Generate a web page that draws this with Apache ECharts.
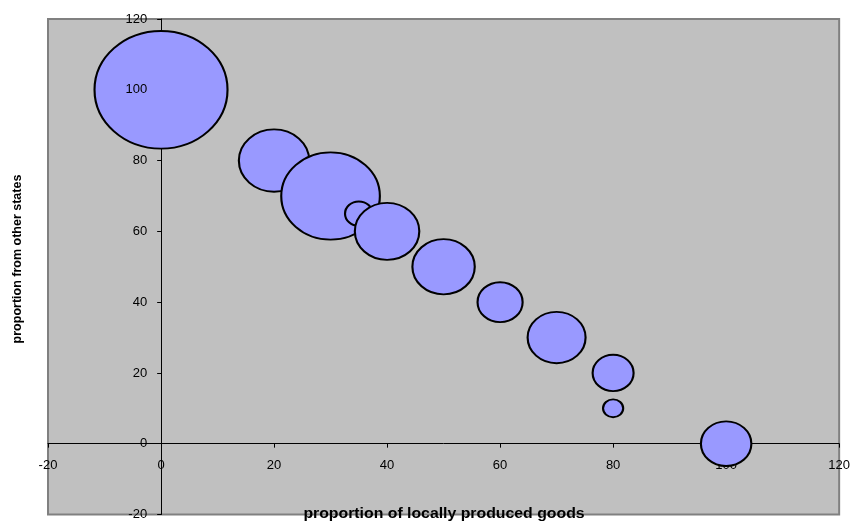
<!DOCTYPE html>
<html>
<head>
<meta charset="utf-8">
<script src="https://cdn.jsdelivr.net/npm/echarts@6/dist/echarts.min.js"></script>
<style>
  html, body { margin: 0; padding: 0; background: #ffffff; }
  #chart { width: 853px; height: 521px; }
</style>
</head>
<body>
<div id="chart"></div>
<script>
// Bubble data: x = share of locally produced goods, y = share from other states, size = bubble weight
const localShare       = [0, 20, 30, 35, 40, 50, 60, 70, 80, 80, 100];
const otherStatesShare = [100, 80, 70, 65, 60, 50, 40, 30, 20, 10, 0];
const bubbleSize       = [100, 28, 55, 4.3, 23.5, 22, 11.5, 19, 9.5, 2.3, 14.4];

const xTitle = 'proportion of locally produced goods';
const yTitle = 'proportion from other states';

const axisMin = -20, axisMax = 120, axisStep = 20;

const points = localShare.map((x, i) => [x, otherStatesShare[i], bubbleSize[i]]);

// Plot rectangle
const gridLeft = 48, gridTop = 19, gridW = 792, gridH = 496;
// Axes cross at zero: shift each axis line inward from the grid edge to the zero position
const zeroFrac = (0 - axisMin) / (axisMax - axisMin);
const yAxisShift = -gridW * zeroFrac;   // y axis moved right to x = 0
const xAxisShift = -gridH * zeroFrac;   // x axis moved up to y = 0

// Bubble area scales with the size value; bubbles are slightly wider than tall
const maxWidth = 133, aspect = 1.13;
function bubbleDims(v) {
  const w = maxWidth * Math.sqrt(v[2] / 100);
  return [w, w / aspect];
}

const fontFamily = 'Liberation Sans, Arial, sans-serif';
const labelFont = { fontFamily: fontFamily, fontSize: 13, color: '#000' };

const chart = echarts.init(document.getElementById('chart'), null, { renderer: 'canvas' });
chart.setOption({
  animation: false,
  grid: {
    left: gridLeft, top: gridTop, width: gridW, height: gridH,
    show: true, backgroundColor: '#c0c0c0', borderColor: '#808080', borderWidth: 2,
    containLabel: false
  },
  xAxis: {
    type: 'value', min: axisMin, max: axisMax, interval: axisStep,
    position: 'bottom', offset: xAxisShift, z: 0,
    axisLine: { show: true, onZero: false, lineStyle: { color: '#000', width: 1 } },
    axisTick: { show: true, inside: false, length: 4, lineStyle: { color: '#000' } },
    axisLabel: Object.assign({ margin: 15, showMinLabel: true, showMaxLabel: true, hideOverlap: false }, labelFont),
    splitLine: { show: false }
  },
  yAxis: [
    {
      // axis line and ticks, drawn beneath the bubbles
      type: 'value', min: axisMin, max: axisMax, interval: axisStep,
      position: 'left', offset: yAxisShift, z: 0,
      axisLine: { show: true, onZero: false, lineStyle: { color: '#000', width: 1 } },
      axisTick: { show: true, inside: false, length: 4, lineStyle: { color: '#000' } },
      axisLabel: { show: false },
      splitLine: { show: false }
    },
    {
      // tick labels, drawn on top of the bubbles
      type: 'value', min: axisMin, max: axisMax, interval: axisStep,
      position: 'left', offset: yAxisShift, z: 10,
      axisLine: { show: false, onZero: false },
      axisTick: { show: false },
      axisLabel: Object.assign({ margin: 14, showMinLabel: true, showMaxLabel: true, hideOverlap: false }, labelFont),
      splitLine: { show: false }
    }
  ],
  graphic: [
    {
      type: 'text', z: 20,
      x: gridLeft + gridW / 2, y: 514, scaleX: 1.13,
      style: { text: xTitle, font: 'bold 14px ' + fontFamily, fill: '#000', align: 'center', verticalAlign: 'middle' }
    },
    {
      type: 'text', z: 20,
      x: 18, y: 259, rotation: Math.PI / 2,
      style: { text: yTitle, font: 'bold 12.5px ' + fontFamily, fill: '#000', align: 'center', verticalAlign: 'middle' }
    }
  ],
  series: [{
    type: 'scatter',
    xAxisIndex: 0, yAxisIndex: 0,
    z: 2,
    data: points,
    symbol: 'circle',
    symbolSize: bubbleDims,
    itemStyle: { color: '#9999ff', borderColor: '#000', borderWidth: 2, opacity: 1 },
    emphasis: { disabled: true },
    clip: false
  }]
});
</script>
</body>
</html>
